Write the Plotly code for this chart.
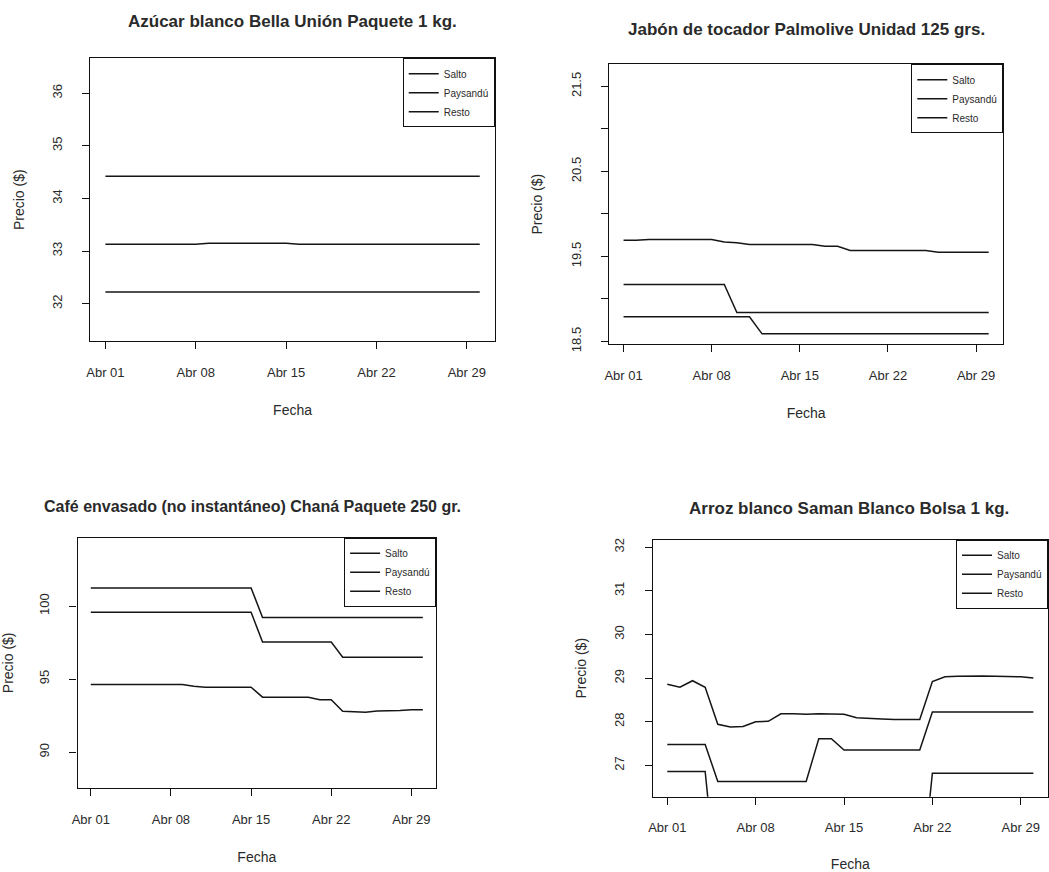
import pandas as pd
import plotly.graph_objects as go

# ---------------- data ----------------
dates = pd.date_range("2011-04-01", periods=30, freq="D")
series_names = ["Salto", "Paysandú", "Resto"]
x_tick_dates = ["2011-04-01", "2011-04-08", "2011-04-15", "2011-04-22", "2011-04-29"]
x_tick_labels = ["Abr 01", "Abr 08", "Abr 15", "Abr 22", "Abr 29"]

titles = [
    "Azúcar blanco Bella Unión Paquete 1 kg.",
    "Jabón de tocador Palmolive Unidad 125 grs.",
    "Café envasado (no instantáneo) Chaná Paquete 250 gr.",
    "Arroz blanco Saman Blanco Bolsa 1 kg.",
]

# Azúcar
azucar_salto = [34.42, 34.42, 34.42, 34.42, 34.42, 34.42, 34.42, 34.42, 34.42, 34.42,
                34.42, 34.42, 34.42, 34.42, 34.42, 34.42, 34.42, 34.42, 34.42, 34.42,
                34.42, 34.42, 34.42, 34.42, 34.42, 34.42, 34.42, 34.42, 34.42, 34.42]
azucar_paysandu = [33.13, 33.13, 33.13, 33.13, 33.13, 33.13, 33.13, 33.13, 33.15, 33.15,
                   33.15, 33.15, 33.15, 33.15, 33.15, 33.13, 33.13, 33.13, 33.13, 33.13,
                   33.13, 33.13, 33.13, 33.13, 33.13, 33.13, 33.13, 33.13, 33.13, 33.13]
azucar_resto = [32.22, 32.22, 32.22, 32.22, 32.22, 32.22, 32.22, 32.22, 32.22, 32.22,
                32.22, 32.22, 32.22, 32.22, 32.22, 32.22, 32.22, 32.22, 32.22, 32.22,
                32.22, 32.22, 32.22, 32.22, 32.22, 32.22, 32.22, 32.22, 32.22, 32.22]

# Jabón
jabon_salto = [19.69, 19.69, 19.70, 19.70, 19.70, 19.70, 19.70, 19.70, 19.67, 19.66,
               19.64, 19.64, 19.64, 19.64, 19.64, 19.64, 19.62, 19.62, 19.57, 19.57,
               19.57, 19.57, 19.57, 19.57, 19.57, 19.55, 19.55, 19.55, 19.55, 19.55]
jabon_paysandu = [19.17, 19.17, 19.17, 19.17, 19.17, 19.17, 19.17, 19.17, 19.17, 18.84,
                  18.84, 18.84, 18.84, 18.84, 18.84, 18.84, 18.84, 18.84, 18.84, 18.84,
                  18.84, 18.84, 18.84, 18.84, 18.84, 18.84, 18.84, 18.84, 18.84, 18.84]
jabon_resto = [18.79, 18.79, 18.79, 18.79, 18.79, 18.79, 18.79, 18.79, 18.79, 18.79,
               18.79, 18.59, 18.59, 18.59, 18.59, 18.59, 18.59, 18.59, 18.59, 18.59,
               18.59, 18.59, 18.59, 18.59, 18.59, 18.59, 18.59, 18.59, 18.59, 18.59]

# Café
cafe_salto = [101.24, 101.24, 101.24, 101.24, 101.24, 101.24, 101.24, 101.24, 101.24, 101.24,
              101.24, 101.24, 101.24, 101.24, 101.24, 99.21, 99.21, 99.21, 99.21, 99.21,
              99.21, 99.21, 99.21, 99.21, 99.21, 99.21, 99.21, 99.21, 99.21, 99.21]
cafe_paysandu = [99.57, 99.57, 99.57, 99.57, 99.57, 99.57, 99.57, 99.57, 99.57, 99.57,
                 99.57, 99.57, 99.57, 99.57, 99.57, 97.54, 97.54, 97.54, 97.54, 97.54,
                 97.54, 97.54, 96.50, 96.50, 96.50, 96.50, 96.50, 96.50, 96.50, 96.50]
cafe_resto = [94.62, 94.62, 94.62, 94.62, 94.62, 94.62, 94.62, 94.62, 94.62, 94.50,
              94.44, 94.44, 94.44, 94.44, 94.44, 93.76, 93.76, 93.76, 93.76, 93.76,
              93.58, 93.58, 92.79, 92.75, 92.73, 92.82, 92.82, 92.84, 92.90, 92.90]

# Arroz
arroz_salto = [28.86, 28.79, 28.94, 28.79, 27.94, 27.88, 27.89, 28.00, 28.01, 28.18,
               28.18, 28.17, 28.18, 28.17, 28.17, 28.09, 28.07, 28.06, 28.05, 28.05,
               28.05, 28.92, 29.03, 29.04, 29.05, 29.05, 29.04, 29.04, 29.03, 29.00]
arroz_paysandu = [27.48, 27.48, 27.48, 27.48, 26.63, 26.63, 26.63, 26.63, 26.63, 26.63,
                  26.63, 26.63, 27.61, 27.61, 27.35, 27.35, 27.35, 27.35, 27.35, 27.35,
                  27.35, 28.22, 28.22, 28.22, 28.22, 28.22, 28.22, 28.22, 28.22, 28.22]
arroz_resto = [26.86, 26.86, 26.86, 26.86, 24.00, 24.00, 24.00, 24.00, 24.00, 24.00,
               24.00, 24.00, 24.00, 24.00, 24.00, 24.00, 24.00, 24.00, 24.00, 24.00,
               24.00, 26.82, 26.82, 26.82, 26.82, 26.82, 26.82, 26.82, 26.82, 26.82]

panel_series = [
    [azucar_salto, azucar_paysandu, azucar_resto],
    [jabon_salto, jabon_paysandu, jabon_resto],
    [cafe_salto, cafe_paysandu, cafe_resto],
    [arroz_salto, arroz_paysandu, arroz_resto],
]

y_tick_vals = [
    [32, 33, 34, 35, 36],
    [18.5, 19.0, 19.5, 20.0, 20.5, 21.0, 21.5],
    [90, 95, 100, 105],
    [27, 28, 29, 30, 31, 32],
]
y_tick_text = [
    ["32", "33", "34", "35", "36"],
    ["18.5", "", "19.5", "", "20.5", "", "21.5"],
    ["90", "95", "100", "105"],
    ["27", "28", "29", "30", "31", "32"],
]

# ---------------- layout (pixel geometry) ----------------
W, H = 1049, 872
boxes = [(85, 57, 492, 343), (607, 63, 1004, 346), (72, 542, 433, 795), (651, 544, 1049, 804)]
y_ranges = [(31.29, 36.66), (18.47, 21.76), (87.55, 104.67), (26.28, 32.17)]
title_pos = [(288, 20), (806, 28), (248, 510), (849, 512)]
title_size = [17, 17, 16, 17]

FONT = "Liberation Sans, Arial, sans-serif"
TXT = "#2a2a2a"
LINE = "#151515"

pad = pd.Timedelta(days=1.16)
x_range = [dates[0] - pad, dates[-1] + pad]

fig = go.Figure()
layout = dict(
    width=W, height=H,
    margin=dict(l=0, r=0, t=0, b=0),
    paper_bgcolor="white", plot_bgcolor="white",
    font=dict(family=FONT, color=TXT),
    annotations=[],
)

for i in range(4):
    n = "" if i == 0 else str(i + 1)
    x0, y0, x1, y1 = boxes[i]
    lg = "legend" + n
    for name, vals in zip(series_names, panel_series[i]):
        fig.add_trace(go.Scatter(
            x=dates, y=vals, mode="lines", name=name,
            line=dict(color=LINE, width=1.5),
            xaxis="x" + n, yaxis="y" + n, legend=lg,
            hovertemplate="%{x|%d/%m}: %{y}<extra>" + name + "</extra>",
        ))
    common = dict(
        showline=True, mirror=True, linecolor="#111", linewidth=1.2,
        showgrid=False, zeroline=False, ticks="outside", ticklen=7,
        tickcolor="#111", tickwidth=1, tickfont=dict(size=13, color=TXT),
    )
    layout["xaxis" + n] = dict(
        common, domain=[x0 / W, x1 / W], anchor="y" + n, type="date",
        range=x_range, tickmode="array", tickvals=x_tick_dates, ticktext=x_tick_labels,
        ticklabelstandoff=12,
        title=dict(text="Fecha", font=dict(size=14, color=TXT), standoff=26),
    )
    layout["yaxis" + n] = dict(
        common, domain=[1 - y1 / H, 1 - y0 / H], anchor="x" + n,
        range=list(y_ranges[i]), tickmode="array", tickvals=y_tick_vals[i],
        ticktext=y_tick_text[i], tickangle=-90, ticklabelstandoff=15,
        title=dict(text="Precio ($)", font=dict(size=14, color=TXT), standoff=22),
    )
    layout[lg] = dict(
        x=x1 / W, y=1 - y0 / H, xanchor="right", yanchor="top",
        xref="paper", yref="paper",
        bgcolor="white", bordercolor="#111", borderwidth=1,
        font=dict(size=10, color=TXT), itemwidth=30, tracegroupgap=0,
    )
    tx, ty = title_pos[i]
    layout["annotations"].append(dict(
        text="<b>" + titles[i] + "</b>", x=tx / W, y=1 - ty / H,
        xref="paper", yref="paper", showarrow=False,
        xanchor="center", yanchor="middle",
        font=dict(size=title_size[i], color=TXT, family=FONT),
    ))

fig.update_layout(**layout)
fig.write_html(
    "out.html",
    config={"displayModeBar": False},
    post_script="document.body.style.margin='0';document.body.style.overflow='hidden';",
)
